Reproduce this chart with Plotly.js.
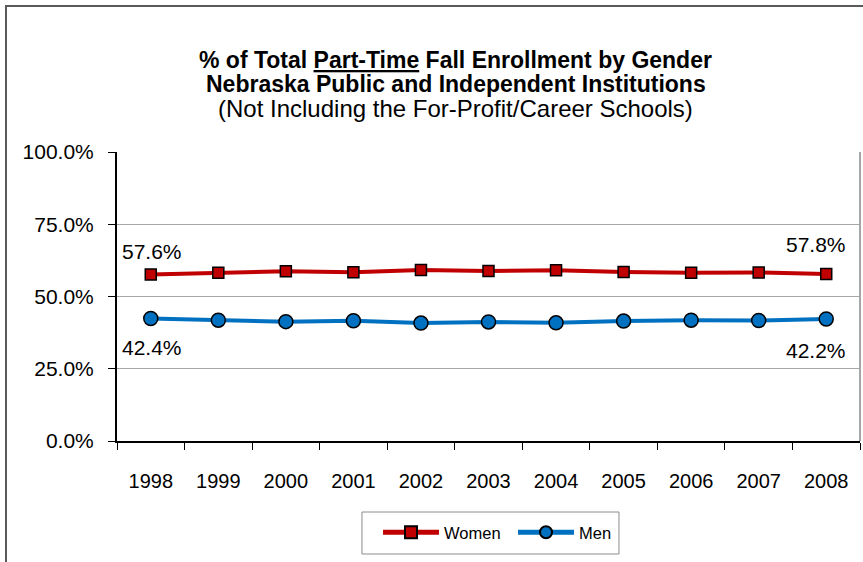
<!DOCTYPE html>
<html>
<head>
<meta charset="utf-8">
<script src="https://cdn.plot.ly/plotly-3.0.1.min.js"></script>
<style>
  html, body { margin: 0; padding: 0; background: #ffffff; }
  #wrap { position: relative; width: 863px; height: 562px; overflow: hidden; }
  #chart { position: absolute; left: 0; top: 0; width: 863px; height: 562px; }
  #frame { position: absolute; left: 5px; top: 5px; width: 900px; height: 600px;
           border-left: 2px solid #5a5a5a; border-top: 2px solid #5a5a5a; pointer-events: none; }
</style>
</head>
<body>
<div id="wrap">
  <div id="chart"></div>
  <div id="frame"></div>
</div>
<script>
const years = ['1998','1999','2000','2001','2002','2003','2004','2005','2006','2007','2008'];
const women = [57.6, 58.2, 58.7, 58.4, 59.2, 58.8, 59.1, 58.5, 58.2, 58.3, 57.8];
const men   = [42.4, 41.8, 41.3, 41.6, 40.8, 41.2, 40.9, 41.5, 41.8, 41.7, 42.2];
const yTicks = [0, 25, 50, 75, 100];
const yTickText = ['0.0%', '25.0%', '50.0%', '75.0%', '100.0%'];
const titleLines = [
  '<b>% of Total <u>Part-Time</u> Fall Enrollment by Gender</b>',
  '<b>Nebraska Public and Independent Institutions</b>',
  '(Not Including the For-Profit/Career Schools)'
];

const FONT = 'Liberation Sans, Arial, sans-serif';

const traces = [
  {
    x: years, y: women, name: 'Women', type: 'scatter', mode: 'lines+markers',
    line: { color: '#C00000', width: 4 },
    marker: { symbol: 'square', size: 11, color: '#C00000', line: { color: '#000000', width: 1.5 } }
  },
  {
    x: years, y: men, name: 'Men', type: 'scatter', mode: 'lines+markers',
    line: { color: '#0070C0', width: 4 },
    marker: { symbol: 'circle', size: 14, color: '#0070C0', line: { color: '#000000', width: 1.5 } }
  }
];

const last = years.length - 1;
function lab(i, arr, yshift, xshift) {
  return { x: i, y: arr[i], xref: 'x', yref: 'y', text: arr[i].toFixed(1) + '%',
           showarrow: false, yshift: yshift, xshift: xshift,
           font: { family: FONT, size: 21, color: '#000000' } };
}
const annotations = [
  lab(0, women, 23, 1), lab(last, women, 29, -10),
  lab(0, men, -29, 1), lab(last, men, -31, -10)
];
// title lines
const titleY = [1.318, 1.235, 1.152];
const titleSize = [23, 23, 24];
titleLines.forEach(function (t, k) {
  annotations.push({ text: t, xref: 'paper', yref: 'paper', x: 0.456, y: titleY[k],
    xanchor: 'center', yanchor: 'middle', showarrow: false,
    font: { family: FONT, size: titleSize[k], color: '#000000' } });
});

const layout = {
  width: 863, height: 562,
  margin: { l: 117, r: 3, t: 152, b: 121 },
  paper_bgcolor: '#ffffff', plot_bgcolor: '#ffffff',
  font: { family: FONT, size: 20, color: '#000000' },
  xaxis: {
    type: 'category', range: [-0.5, years.length - 0.5], autorange: false,
    tickson: 'boundaries', ticks: 'outside', ticklen: 7, tickcolor: '#000000',
    showline: true, linecolor: '#000000', linewidth: 2, showgrid: false, zeroline: false,
    tickfont: { family: FONT, size: 20, color: '#000000' }, ticklabelstandoff: 21,
    tickangle: 0, fixedrange: true
  },
  yaxis: {
    range: [0, 100], autorange: false, tickvals: yTicks, ticktext: yTickText, ticks: 'outside', ticklen: 7,
    tickcolor: '#000000', showline: true, linecolor: '#000000', linewidth: 2,
    showgrid: true, gridcolor: '#a6a6a6', gridwidth: 1, zeroline: false,
    tickfont: { family: FONT, size: 21, color: '#000000' }, ticklabelstandoff: 10,
    fixedrange: true
  },
  shapes: [
    { type: 'line', xref: 'paper', yref: 'paper', x0: 1, x1: 1, y0: 0, y1: 1,
      line: { color: '#a6a6a6', width: 2 }, layer: 'below' },
    { type: 'rect', xref: 'paper', yref: 'paper', x0: 0.3297, x1: 0.6756, y0: -0.2457, y1: -0.391,
      line: { color: '#8c8c8c', width: 1 }, fillcolor: 'rgba(0,0,0,0)' }
  ],
  annotations: annotations,
  showlegend: true,
  legend: {
    orientation: 'h', x: 0.3513, xanchor: 'left', y: -0.256, yanchor: 'top',
    bgcolor: 'rgba(0,0,0,0)', borderwidth: 0,
    font: { family: FONT, size: 16.5, color: '#000000' }, itemwidth: 56,
    entrywidth: 64, entrywidthmode: 'pixels', tracegroupgap: 0, itemsizing: 'constant'
  }
};

Plotly.newPlot('chart', traces, layout, { displayModeBar: false, staticPlot: true });
</script>
</body>
</html>
